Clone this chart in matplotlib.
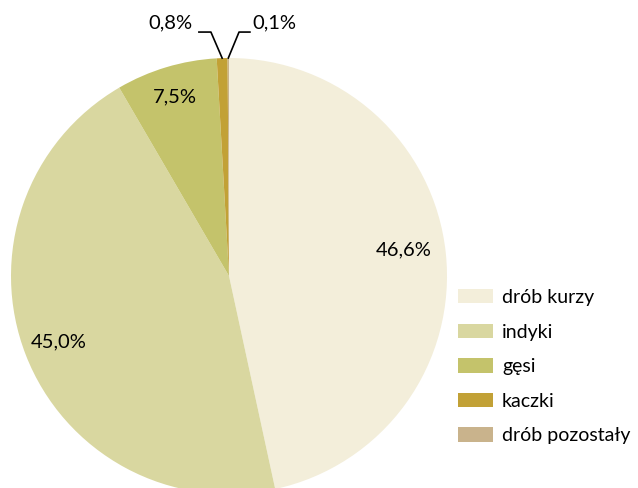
import matplotlib
matplotlib.use("Agg")
import matplotlib.pyplot as plt
import numpy as np

categories = ["drób kurzy", "indyki", "gęsi", "kaczki", "drób pozostały"]
values = [46.6, 45.0, 7.5, 0.8, 0.1]
labels = ["46,6%", "45,0%", "7,5%", "0,8%", "0,1%"]
colors = ["#F3EEDA", "#D9D7A0", "#C4C36B", "#C2A136", "#C9B38C"]

plt.rcParams["font.family"] = ["Lato", "DejaVu Sans"]

fig = plt.figure(figsize=(6.38, 4.88), dpi=100)
ax = fig.add_axes([11 / 638, -6 / 488, 436 / 638, 436 / 488])
wedges, _ = ax.pie(values, colors=colors, startangle=90, counterclock=False,
                   radius=1, wedgeprops=dict(linewidth=0))
ax.set_xlim(-1, 1)
ax.set_ylim(-1, 1)
ax.set_aspect("equal")
ax.axis("off")
ax.set_clip_on(False)

# inside labels (radius, angle nudge in degrees)
inside_pos = [(0.81, 2.5), (0.84, 0.0), (0.86, 0.0)]
for i, (r, da) in enumerate(inside_pos):
    w = wedges[i]
    ang = np.deg2rad((w.theta1 + w.theta2) / 2 + da)
    ax.text(r * np.cos(ang), r * np.sin(ang), labels[i], ha="center", va="center",
            fontsize=14.5, color="black")

# small slices with leader lines
leader = {3: (-0.083, -0.138, -0.268), 4: (0.046, 0.096, 0.209)}
ly = 1.119
ty = 1.161
for i, (ex, hx, tx) in leader.items():
    w = wedges[i]
    ang = np.deg2rad((w.theta1 + w.theta2) / 2)
    px, py = np.cos(ang), np.sin(ang)
    ax.plot([px, ex, hx], [py, ly, ly], color="black", lw=1.2, clip_on=False)
    ax.text(tx, ty, labels[i], ha="center", va="center", fontsize=14.5, color="black",
            clip_on=False)

leg = fig.legend(wedges, categories, loc="upper left",
                 bbox_to_anchor=(458 / 638, 1 - 289 / 488), frameon=False,
                 fontsize=14, handlelength=1.8, handleheight=0.77,
                 handletextpad=0.46, labelspacing=0.9, borderpad=0,
                 borderaxespad=0)

fig.savefig("out.png", dpi=100)
